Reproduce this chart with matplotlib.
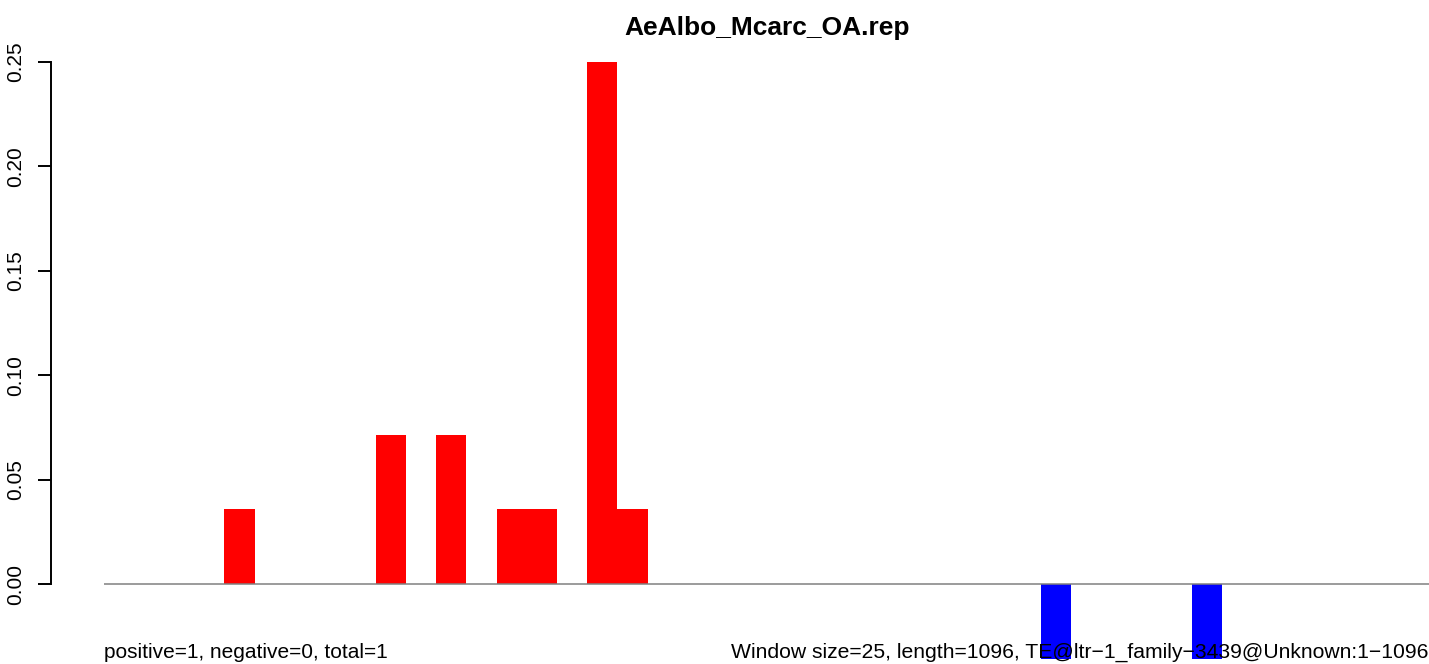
import matplotlib
matplotlib.use("Agg")
import matplotlib.pyplot as plt
import numpy as np

plt.rcParams['font.family'] = ['Liberation Sans', 'DejaVu Sans']

# window data (window size 25 over a 1096 bp sequence)
win_size = 25
seq_len = 1096
pos_bins = [4, 9, 11, 13, 14, 16, 17]
pos_vals = [1/28, 2/28, 2/28, 1/28, 1/28, 7/28, 1/28]
neg_bins = [31, 36]
neg_vals = [-1/28, -1/28]
yticks = [0.00, 0.05, 0.10, 0.15, 0.20, 0.25]

title = "AeAlbo_Mcarc_OA.rep"
left_note = "positive=1, negative=0, total=1"
right_note = "Window size=25, length=1096, TE@ltr\u22121_family\u22123439@Unknown:1\u22121096"

W, H = 1429, 664
fig = plt.figure(figsize=(W / 100, H / 100), dpi=100)
ax = fig.add_axes([50.5 / W, 1 - 658.6 / H, 1 - 50.5 / W, (658.6 - 62) / H])

# x=0 sits at pixel 103.5, one window ~30.22 px
px_per_unit = (W - 103.5) / seq_len
ax.set_xlim(-(103.5 - 50.5) / px_per_unit, seq_len)
ax.set_ylim(-1/28, 0.25)

ax.bar(np.array(pos_bins) * win_size, pos_vals, width=win_size, align='edge',
       color='#ff0000', linewidth=0, zorder=2)
ax.bar(np.array(neg_bins) * win_size, neg_vals, width=win_size, align='edge',
       color='#0000ff', linewidth=0, zorder=2)
ax.hlines(0, 0, seq_len, color='#808080', lw=1.1, zorder=3)

for s in ['top', 'right', 'bottom']:
    ax.spines[s].set_visible(False)
ax.spines['left'].set_bounds(0, 0.25)
ax.spines['left'].set_linewidth(1.4)
ax.set_xticks([])
ax.set_yticks(yticks)
ax.set_yticklabels(['%.2f' % v for v in yticks], rotation=90, va='center')
ax.tick_params(axis='y', length=9.5, width=1.4, pad=9, labelsize=15)

fig.text(767 / W, 1 - 28 / H, title, ha='center', va='center',
         fontsize=19, fontweight='bold')
fig.text(104 / W, 1 - 652 / H, left_note, ha='left', va='center', fontsize=15, zorder=5)
fig.text(1428 / W, 1 - 652 / H, right_note, ha='right', va='center', fontsize=15.2, zorder=5)

fig.savefig("out.png", dpi=100)
